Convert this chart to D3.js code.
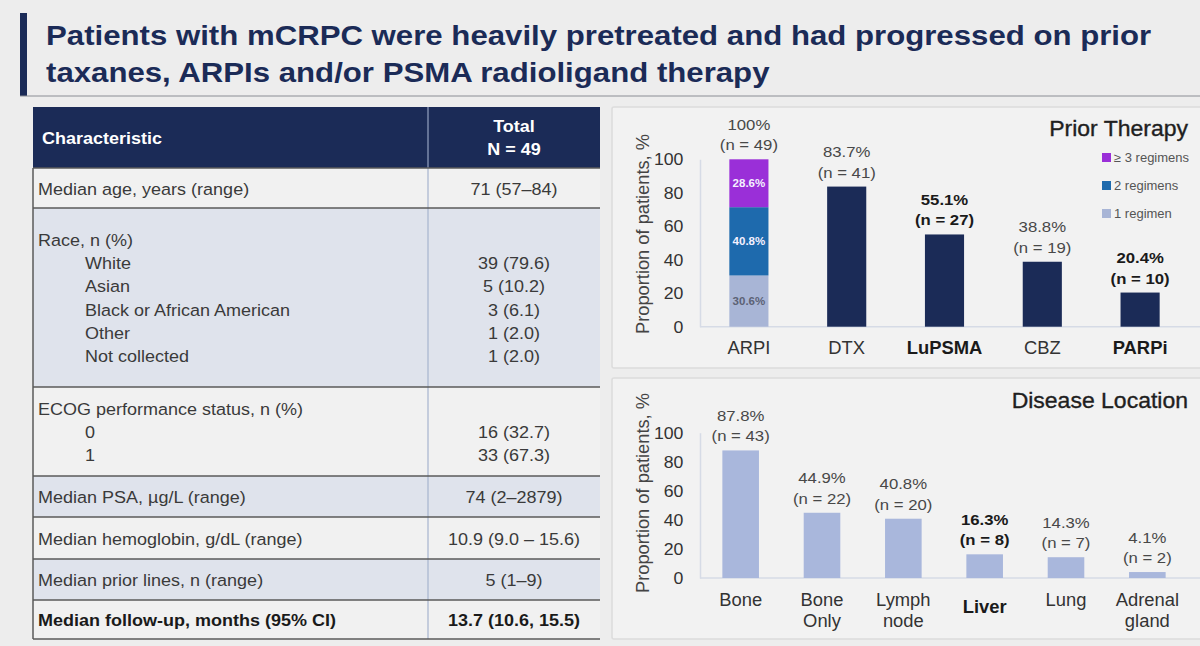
<!DOCTYPE html>
<html>
<head>
<meta charset="utf-8">
<title>Patients with mCRPC</title>
<style>
  body { margin: 0; background: #ededed; }
  svg { display: block; font-family: "Liberation Sans", Arial, sans-serif; }
</style>
</head>
<body>
<script src="https://cdn.jsdelivr.net/npm/d3@7"></script>
<script>
// ---- data ----
var titleLines = ["Patients with mCRPC were heavily pretreated and had progressed on prior",
                  "taxanes, ARPIs and/or PSMA radioligand therapy"];

var tableHeader = ["Characteristic", "Total", "N = 49"];
// each line: [label, value, indented]
var tableRows = [
  { lines: [["Median age, years (range)", "71 (57–84)", 0]] },
  { lines: [["Race, n (%)", "", 0], ["White", "39 (79.6)", 1], ["Asian", "5 (10.2)", 1],
            ["Black or African American", "3 (6.1)", 1], ["Other", "1 (2.0)", 1], ["Not collected", "1 (2.0)", 1]] },
  { lines: [["ECOG performance status, n (%)", "", 0], ["0", "16 (32.7)", 1], ["1", "33 (67.3)", 1]] },
  { lines: [["Median PSA, µg/L (range)", "74 (2–2879)", 0]] },
  { lines: [["Median hemoglobin, g/dL (range)", "10.9 (9.0 – 15.6)", 0]] },
  { lines: [["Median prior lines, n (range)", "5 (1–9)", 0]] },
  { lines: [["Median follow-up, months (95% CI)", "13.7 (10.6, 15.5)", 0]], bold: true }
];
var rowBounds = [168, 208, 387, 476, 517, 559, 600, 639];

var priorCats = ["ARPI", "DTX", "LuPSMA", "CBZ", "PARPi"];
var priorValues = [100, 83.7, 55.1, 38.8, 20.4];
var priorN = [49, 41, 27, 19, 10];
var priorBold = ["LuPSMA", "PARPi"];
var arpiKeys = ["1 regimen", "2 regimens", "≥ 3 regimens"];
var arpiValues = [30.6, 40.8, 28.6];

var locCats = ["Bone", "Bone Only", "Lymph node", "Liver", "Lung", "Adrenal gland"];
var locLabels = [["Bone"], ["Bone", "Only"], ["Lymph", "node"], ["Liver"], ["Lung"], ["Adrenal", "gland"]];
var locValues = [87.8, 44.9, 40.8, 16.3, 14.3, 4.1];
var locN = [43, 22, 20, 8, 7, 2];
var locBold = ["Liver"];

var yTicks = [0, 20, 40, 60, 80, 100];

var navy = "#1b2b57";
var segColors = ["#a8b5d6", "#1e6aad", "#9a2fd8"];

var svg = d3.select("body").append("svg")
    .attr("width", 1200)
    .attr("height", 646);

svg.append("rect").attr("width", 1200).attr("height", 646).attr("fill", "#ededed");

// text helper: the slide font is a bit wider than Liberation, so stretch horizontally
function txt(g, x, y, s, o) {
    return g.append("text")
        .attr("transform", "translate(" + x + "," + y + ") scale(" + (o.sx || 1) + ",1)")
        .attr("text-anchor", o.anchor || "start")
        .attr("font-size", o.size)
        .attr("font-weight", o.bold ? "bold" : "normal")
        .attr("fill", o.fill || "#333")
        .text(s);
}

// ---- title ----
svg.append("rect").attr("x", 20).attr("y", 13).attr("width", 7).attr("height", 83).attr("fill", navy);
svg.append("line").attr("x1", 20).attr("x2", 1200).attr("y1", 96).attr("y2", 96)
    .attr("stroke", "#8a8d94").attr("stroke-width", 1);
titleLines.forEach(function (t, i) {
    txt(svg, 46, 44.5 + i * 37.5, t, { size: 27, bold: true, fill: navy, sx: 1.155 });
});

// ---- table ----
var tx0 = 33, tx1 = 600, tmid = 428, tcx = 514;
var tg = svg.append("g");
tg.append("rect").attr("x", tx0).attr("y", 107).attr("width", tx1 - tx0).attr("height", 61).attr("fill", navy);
tg.append("line").attr("x1", tmid).attr("x2", tmid).attr("y1", 107).attr("y2", 168)
    .attr("stroke", "#7d8bab").attr("stroke-width", 1.5);
txt(tg, 42, 144, tableHeader[0], { size: 16.5, bold: true, fill: "#fff", sx: 1.09 });
txt(tg, tcx, 132, tableHeader[1], { size: 16.5, bold: true, fill: "#fff", anchor: "middle", sx: 1.09 });
txt(tg, tcx, 155, tableHeader[2], { size: 16.5, bold: true, fill: "#fff", anchor: "middle", sx: 1.09 });

tableRows.forEach(function (row, i) {
    var y0 = rowBounds[i], y1 = rowBounds[i + 1];
    tg.append("rect").attr("x", tx0).attr("y", y0).attr("width", tx1 - tx0).attr("height", y1 - y0)
        .attr("fill", i % 2 === 0 ? "#f1f1f1" : "#dfe3ec");
    var n = row.lines.length;
    var lh = 23.2;
    var startY = (y0 + y1) / 2 - (n - 1) * lh / 2 + 6.5;
    var col = row.bold ? "#1a1a1a" : "#3a3a3a";
    row.lines.forEach(function (l, j) {
        txt(tg, l[2] ? 85 : 38, startY + j * lh, l[0], { size: 17, bold: row.bold, fill: col, sx: 1.06 });
        if (l[1]) txt(tg, tcx, startY + j * lh, l[1], { size: 17, bold: row.bold, fill: col, anchor: "middle", sx: 1.06 });
    });
});
tg.append("line").attr("x1", tmid).attr("x2", tmid).attr("y1", 168).attr("y2", 639)
    .attr("stroke", "#a7b4cf").attr("stroke-width", 1.2);
tg.selectAll("line.hb").data(rowBounds).enter().append("line")
    .attr("class", "hb")
    .attr("x1", tx0).attr("x2", tx1).attr("y1", d => d).attr("y2", d => d)
    .attr("stroke", "#5a5a5a").attr("stroke-width", 1.5);
tg.append("line").attr("x1", tx0).attr("x2", tx0).attr("y1", 168).attr("y2", 639)
    .attr("stroke", "#5a5a5a").attr("stroke-width", 1.5);

// ---- chart panels ----
function panel(y0, y1) {
    svg.append("rect").attr("x", 612).attr("y", y0).attr("width", 592).attr("height", y1 - y0)
        .attr("fill", "#f2f2f2").attr("stroke", "#dcdcdc").attr("stroke-width", 1.5).attr("rx", 2);
}
panel(107, 368);
panel(378, 639);

function yAxisTitle(cy) {
    svg.append("text")
        .attr("transform", "translate(649," + cy + ") rotate(-90)")
        .attr("text-anchor", "middle")
        .attr("fill", "#444")
        .attr("font-size", 17.5)
        .attr("textLength", 200)
        .attr("lengthAdjust", "spacingAndGlyphs")
        .text("Proportion of patients, %");
}

function drawAxis(g, y, x0, x1) {
    var ax = g.append("g").attr("transform", "translate(" + x0 + ",0)")
        .call(d3.axisLeft(y).tickValues(yTicks).tickSize(0).tickPadding(16));
    ax.select(".domain").attr("stroke", "#d6dbe6").attr("stroke-width", 1.5);
    ax.selectAll("text").attr("font-size", 17).attr("fill", "#333")
        .attr("font-family", "Liberation Sans, Arial, sans-serif")
        .attr("transform", "scale(1.04,1)");
    g.append("line").attr("x1", x0).attr("x2", x1).attr("y1", y(0)).attr("y2", y(0))
        .attr("stroke", "#d6dbe6").attr("stroke-width", 1.5);
}

// ---- Prior therapy ----
var g1 = svg.append("g");
var x1s = d3.scaleBand().domain(priorCats).range([700, 1189]).paddingInner(0.6).paddingOuter(0.3);
var y1s = d3.scaleLinear().domain([0, 100]).range([326.7, 159.3]);
drawAxis(g1, y1s, 700, 1200);
yAxisTitle(234);

// stacked ARPI
var stack = [];
var cum = 0;
arpiValues.forEach(function (v, i) { stack.push({ key: arpiKeys[i], y0: cum, y1: cum + v, v: v, c: segColors[i] }); cum += v; });
g1.selectAll("rect.seg").data(stack).enter().append("rect")
    .attr("class", "seg")
    .attr("x", x1s("ARPI")).attr("width", x1s.bandwidth())
    .attr("y", d => y1s(d.y1)).attr("height", d => y1s(d.y0) - y1s(d.y1))
    .attr("fill", d => d.c);
stack.forEach(function (d, i) {
    txt(g1, x1s("ARPI") + x1s.bandwidth() / 2, (y1s(d.y0) + y1s(d.y1)) / 2 + 4, d.v.toFixed(1) + "%",
        { size: 11.5, bold: true, anchor: "middle", fill: i === 0 ? "#5c6275" : "#f4f0ff", sx: 1.0 });
});

var others = priorCats.slice(1).map((c, i) => ({ c: c, v: priorValues[i + 1] }));
g1.selectAll("rect.bar").data(others).enter().append("rect")
    .attr("class", "bar")
    .attr("x", d => x1s(d.c)).attr("width", x1s.bandwidth())
    .attr("y", d => y1s(d.v)).attr("height", d => y1s(0) - y1s(d.v))
    .attr("fill", navy);

priorCats.forEach(function (c, i) {
    var bold = priorBold.indexOf(c) >= 0;
    var cx = x1s(c) + x1s.bandwidth() / 2;
    var top = y1s(priorValues[i]);
    var lbl = (priorValues[i] === 100 ? "100" : priorValues[i].toFixed(1)) + "%";
    var col = bold ? "#1a1a1a" : "#484848";
    txt(g1, cx, top - 29.5, lbl, { size: 15.5, bold: bold, anchor: "middle", fill: col, sx: 1.08 });
    txt(g1, cx, top - 9, "(n = " + priorN[i] + ")", { size: 15.5, bold: bold, anchor: "middle", fill: col, sx: 1.08 });
    txt(g1, cx, 354, c, { size: 17.5, bold: bold, anchor: "middle", fill: bold ? "#1a1a1a" : "#333", sx: 1.05 });
});

txt(g1, 1188, 136, "Prior Therapy", { size: 21.5, anchor: "end", fill: "#1f1f1f", sx: 1.07 })
    .attr("stroke", "#1f1f1f").attr("stroke-width", 0.35);

var legendItems = arpiKeys.map((k, i) => ({ k: k, c: segColors[i] })).reverse();
legendItems.forEach(function (d, i) {
    var ly = 153 + i * 28;
    g1.append("rect").attr("x", 1102).attr("y", ly).attr("width", 9).attr("height", 9).attr("fill", d.c);
    txt(g1, 1114, ly + 9, d.k, { size: 12.5, fill: "#555", sx: 1.04 });
});

// ---- Disease location ----
var g2 = svg.append("g");
var x2s = d3.scaleBand().domain(locCats).range([700, 1188]).paddingInner(0.55).paddingOuter(0.275);
var y2s = d3.scaleLinear().domain([0, 100]).range([578, 432.7]);
drawAxis(g2, y2s, 700, 1200);
yAxisTitle(493);

g2.selectAll("rect.bar").data(locCats).enter().append("rect")
    .attr("x", d => x2s(d)).attr("width", x2s.bandwidth())
    .attr("y", (d, i) => y2s(locValues[i])).attr("height", (d, i) => y2s(0) - y2s(locValues[i]))
    .attr("fill", "#a9b7dc");

locCats.forEach(function (c, i) {
    var bold = locBold.indexOf(c) >= 0;
    var cx = x2s(c) + x2s.bandwidth() / 2;
    var top = y2s(locValues[i]);
    var col = bold ? "#1a1a1a" : "#484848";
    txt(g2, cx, top - 29.5, locValues[i].toFixed(1) + "%", { size: 15.5, bold: bold, anchor: "middle", fill: col, sx: 1.08 });
    txt(g2, cx, top - 9, "(n = " + locN[i] + ")", { size: 15.5, bold: bold, anchor: "middle", fill: col, sx: 1.08 });
    var lines = locLabels[i];
    lines.forEach(function (t, j) {
        txt(g2, cx, lines.length === 1 && bold ? 613 : 606 + j * 21, t,
            { size: 17.5, bold: bold, anchor: "middle", fill: bold ? "#1a1a1a" : "#333", sx: 1.05 });
    });
});

txt(g2, 1188, 408, "Disease Location", { size: 21.5, anchor: "end", fill: "#1f1f1f", sx: 1.07 })
    .attr("stroke", "#1f1f1f").attr("stroke-width", 0.35);
</script>
</body>
</html>
